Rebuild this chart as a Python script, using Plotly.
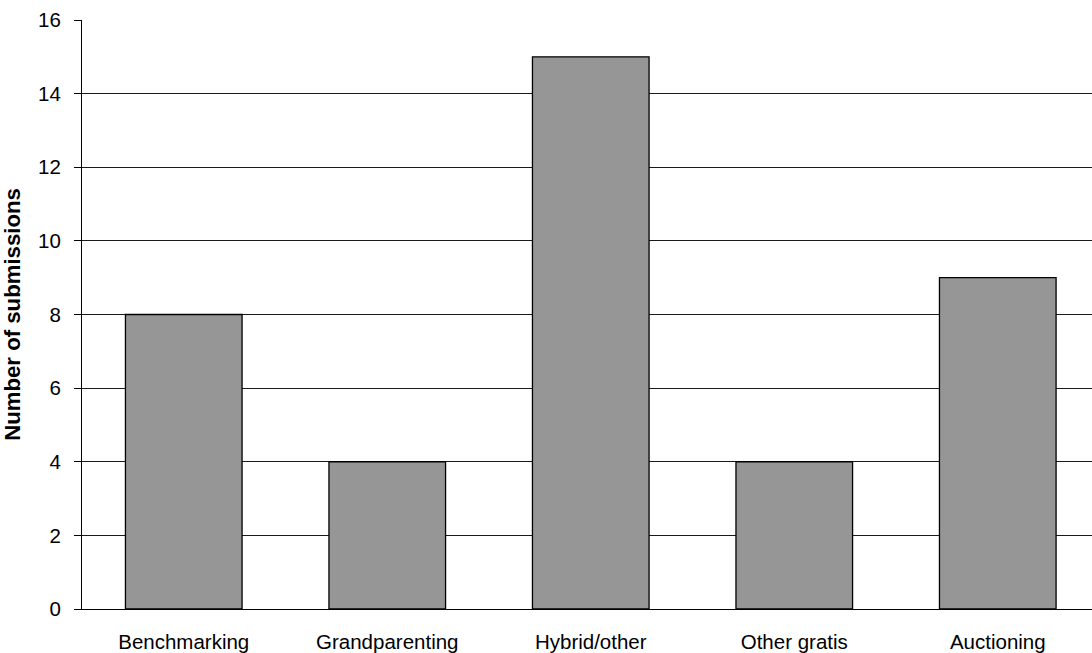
import plotly.graph_objects as go

categories = ["Benchmarking", "Grandparenting", "Hybrid/other", "Other gratis", "Auctioning"]
submissions = [8, 4, 15, 4, 9]
y_ticks = [0, 2, 4, 6, 8, 10, 12, 14, 16]

fig = go.Figure(
    go.Bar(
        x=categories,
        y=submissions,
        marker=dict(color="#969696", line=dict(color="#000000", width=1.3)),
        width=0.573,
    )
)

fig.update_layout(
    width=1092,
    height=653,
    margin=dict(l=82, r=0, t=20, b=42),
    paper_bgcolor="white",
    plot_bgcolor="white",
    font=dict(family="Arial, Liberation Sans, sans-serif", size=20, color="#000000"),
    showlegend=False,
)

# the last category slot runs slightly past the right edge of the page
fig.update_xaxes(
    range=[-0.5, 4.463],
    showline=True,
    linecolor="#000000",
    linewidth=1,
    ticks="",
    showgrid=False,
    tickfont=dict(size=20.5),
    ticklabelstandoff=14,
)

fig.update_yaxes(
    range=[0, 16],
    tickvals=y_ticks,
    showline=True,
    linecolor="#000000",
    linewidth=1,
    ticks="outside",
    ticklen=7,
    tickcolor="#000000",
    showgrid=True,
    gridcolor="#1a1a1a",
    gridwidth=1,
    zeroline=False,
    tickfont=dict(size=20.5),
    ticklabelstandoff=9,
    title=dict(
        text="<b>Number of submissions</b>",
        font=dict(size=22.2),
        standoff=17,
    ),
)

fig.write_html("out.html")
